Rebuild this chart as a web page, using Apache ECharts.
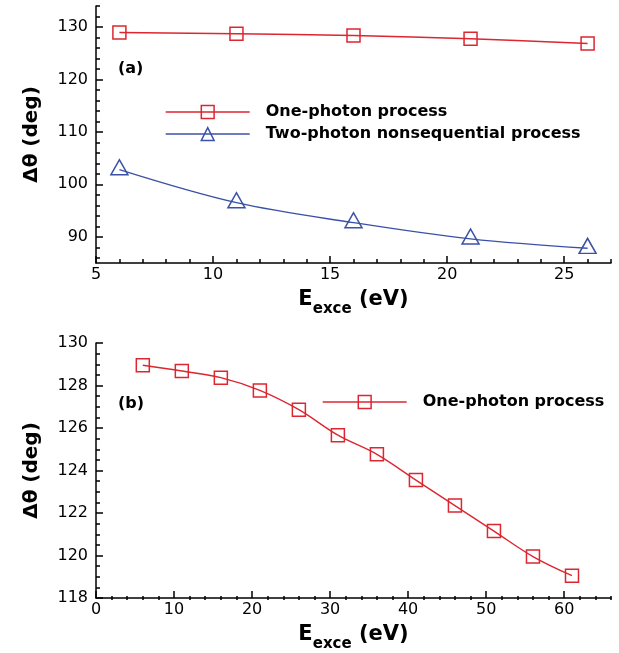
<!DOCTYPE html>
<html>
<head>
<meta charset="utf-8">
<script src="https://cdn.jsdelivr.net/npm/echarts@6/dist/echarts.min.js"></script>
<style>
  html, body { margin: 0; padding: 0; background: #fff; }
  #chart { width: 619px; height: 653px; }
</style>
</head>
<body>
<div id="chart"></div>
<script>
// ---- data: panel (a) ----
const energyA = [6, 11, 16, 21, 26];
const onePhotonA = [128.95, 128.7, 128.38, 127.75, 126.85];
const twoPhotonA = [102.8, 96.5, 92.7, 89.6, 87.8];

// ---- data: panel (b) ----
const energyB = [6, 11, 16, 21, 26, 31, 36, 41, 46, 51, 56, 61];
const onePhotonB = [128.95, 128.68, 128.37, 127.77, 126.86, 125.66, 124.76, 123.55, 122.35, 121.15, 119.95, 119.05];

// ---- tick values ----
const xTicksA = [5, 10, 15, 20, 25];
const yTicksA = [90, 100, 110, 120, 130];
const xTicksB = [0, 10, 20, 30, 40, 50, 60];
const yTicksB = [118, 120, 122, 124, 126, 128, 130];

const nameOne = 'One-photon process';
const nameTwo = 'Two-photon nonsequential process';

const RED = '#dc2630';
const BLUE = '#3b51a6';
const FONT = 'DejaVu Sans';

// minor tick positions between two bounds, skipping the labelled ones
function minorTicks(from, to, step, majors) {
  const out = [];
  for (let v = from; v <= to + 1e-9; v += step) {
    const r = Math.round(v * 100) / 100;
    if (!majors.some(m => Math.abs(m - r) < 1e-6)) out.push(r);
  }
  return out;
}

const pairs = (xs, ys) => xs.map((x, i) => [x, ys[i]]);

const grids = [
  { left: 96, top: 6, width: 515, height: 257 },
  { left: 96, top: 343, width: 515, height: 257 }
];

const axisLineStyle = { color: '#000', width: 1.5 };

function mainX(grid, min, max, ticks) {
  return {
    type: 'value', gridIndex: grid, min: min, max: max, position: 'bottom',
    axisLine: { show: true, onZero: false, lineStyle: axisLineStyle },
    axisTick: { show: true, inside: true, length: 7, customValues: ticks, lineStyle: { color: '#000', width: 1.5 } },
    axisLabel: { customValues: ticks, margin: 4, color: '#000', fontFamily: FONT, fontSize: 16 },
    splitLine: { show: false },
    name: '{big|E}{sub|exce}{big| (eV)}',
    nameLocation: 'middle', nameGap: 26,
    nameTextStyle: {
      color: '#000',
      rich: {
        big: { fontFamily: FONT, fontWeight: 'bold', fontSize: 21, color: '#000', verticalAlign: 'bottom', padding: [0, 0, 7, 0] },
        sub: { fontFamily: FONT, fontWeight: 'bold', fontSize: 15, color: '#000', verticalAlign: 'bottom' }
      }
    }
  };
}
function minorX(grid, min, max, ticks, h) {
  return {
    type: 'value', gridIndex: grid, min: min, max: max, position: 'top', offset: -h,
    axisLine: { show: false, onZero: false },
    axisTick: { show: true, inside: false, length: 4, customValues: ticks, lineStyle: { color: '#000', width: 1.5 } },
    axisLabel: { show: false },
    splitLine: { show: false }
  };
}
function mainY(grid, min, max, ticks) {
  return {
    type: 'value', gridIndex: grid, min: min, max: max, position: 'left',
    axisLine: { show: true, onZero: false, lineStyle: axisLineStyle },
    axisTick: { show: true, inside: true, length: 7, customValues: ticks, lineStyle: { color: '#000', width: 1.5 } },
    axisLabel: { customValues: ticks, margin: 8, color: '#000', fontFamily: FONT, fontSize: 16 },
    splitLine: { show: false },
    name: '\u0394\u03b8 (deg)',
    nameLocation: 'middle', nameGap: 54, nameRotate: 90,
    nameTextStyle: { fontFamily: FONT, fontWeight: 'bold', fontSize: 20, color: '#000' }
  };
}
function minorY(grid, min, max, ticks, w) {
  return {
    type: 'value', gridIndex: grid, min: min, max: max, position: 'right', offset: -w,
    axisLine: { show: false, onZero: false },
    axisTick: { show: true, inside: false, length: 4, customValues: ticks, lineStyle: { color: '#000', width: 1.5 } },
    axisLabel: { show: false },
    splitLine: { show: false }
  };
}

function lineSeries(name, color, symbol, size, offset, xi, yi, data) {
  return {
    type: 'line', name: name, xAxisIndex: xi, yAxisIndex: yi,
    data: data, smooth: 0.35, color: color,
    symbol: symbol, symbolSize: size, symbolOffset: offset,
    lineStyle: { color: color, width: 1.4 },
    itemStyle: { color: 'rgba(255,255,255,0)', borderColor: color, borderWidth: 1.5 },
    emphasis: { disabled: true },
    animation: false, z: 3
  };
}

const legendText = { fontFamily: FONT, fontWeight: 'bold', fontSize: 16, color: '#000', padding: [0, 0, 0, 11], lineHeight: 16 };
const legendCommon = {
  orient: 'vertical', itemWidth: 84, itemHeight: 16, itemGap: 6,
  selectedMode: false, textStyle: legendText,
  itemStyle: { borderWidth: 1.5 },
  lineStyle: { width: 1.4 }
};

const option = {
  animation: false,
  backgroundColor: '#fff',
  grid: grids,
  xAxis: [
    mainX(0, 5, 27, xTicksA),
    minorX(0, 5, 27, minorTicks(5, 27, 1, xTicksA), 257),
    mainX(1, 0, 66, xTicksB),
    minorX(1, 0, 66, minorTicks(0, 66, 2, xTicksB), 257)
  ],
  yAxis: [
    mainY(0, 85, 134, yTicksA),
    minorY(0, 85, 134, minorTicks(86, 134, 2, yTicksA), 515),
    mainY(1, 118, 130, yTicksB),
    minorY(1, 118, 130, minorTicks(118, 130, 0.5, yTicksB), 515)
  ],
  legend: [
    Object.assign({ left: 160, top: 99, data: [nameOne, nameTwo] }, legendCommon),
    Object.assign({ left: 317, top: 389, data: [nameOne] }, legendCommon)
  ],
  graphic: [
    { type: 'text', left: 118, top: 61, style: { text: '(a)', fontFamily: FONT, fontWeight: 'bold', fontSize: 16, fill: '#000' } },
    { type: 'text', left: 118, top: 396, style: { text: '(b)', fontFamily: FONT, fontWeight: 'bold', fontSize: 16, fill: '#000' } }
  ],
  series: [
    lineSeries(nameOne, RED, 'rect', 13, [0, 0], 0, 0, pairs(energyA, onePhotonA)),
    lineSeries(nameTwo, BLUE, 'triangle', [17, 15], [0, '-16%'], 0, 0, pairs(energyA, twoPhotonA)),
    lineSeries(nameOne, RED, 'rect', 13, [0, 0], 2, 2, pairs(energyB, onePhotonB))
  ]
};

const chart = echarts.init(document.getElementById('chart'), null, { renderer: 'canvas' });
chart.setOption(option);
</script>
</body>
</html>
